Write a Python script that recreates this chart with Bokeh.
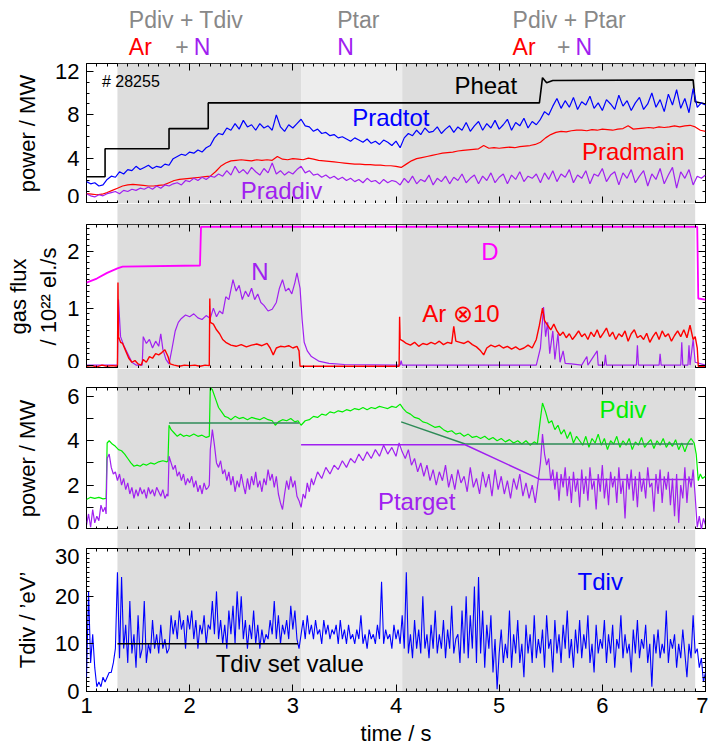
import numpy as np
from bokeh.plotting import figure
from bokeh.layouts import column
from bokeh.models import (Range1d, BoxAnnotation, LinearAxis, SingleIntervalTicker,
                          ColumnDataSource, CustomJSTickFormatter)
from bokeh.core.properties import value
from bokeh.embed import file_html
from bokeh.resources import INLINE

FONT = "Liberation Sans"

# ---------------- data ----------------
phase_edges = [1.30, 3.08, 4.06, 6.90]

# panel 1 : power / MW
t_heat = [1.00, 1.18, 1.18, 1.80, 1.80, 2.18, 2.18, 5.39, 5.42, 5.46, 5.52, 6.88, 6.90, 7.00]
p_heat = [2.35, 2.35, 4.9, 4.9, 6.75, 6.75, 9.1, 9.1, 11.4, 10.95, 11.15, 11.2, 9.2, 9.0]

step_rad = 0.04
p_radtot = [1.9, 1.7, 1.8, 1.5, 1.6, 2.1,
            2.4, 2.3, 2.8, 2.6, 3.0, 2.9, 3.3, 3.0, 3.2, 3.4, 3.1, 3.3, 3.2, 3.5, 3.4,
            4.0, 4.2, 4.4, 4.3, 4.6, 4.5, 4.8, 4.6, 5.0, 5.2,
            5.9, 6.3, 6.2, 6.8, 6.6, 7.2, 6.7, 7.5, 6.9, 7.1, 6.6, 7.2, 6.8, 7.0, 6.6, 8.0, 6.9, 6.5, 7.1, 6.8,
            7.2, 7.6, 7.0, 6.9, 6.5, 6.7, 6.3, 6.4, 6.1, 6.2, 5.9, 6.0, 5.8, 5.6, 5.9, 5.7, 5.5, 5.8, 5.4, 5.6,
            5.3, 5.7, 5.5, 5.2, 5.6,
            5.0, 5.9, 6.3, 6.1, 6.6, 6.2, 6.8, 6.4, 6.5, 6.9, 6.3, 6.7, 7.0, 6.4, 6.9, 6.6, 7.3, 6.5, 7.0, 7.4,
            6.6, 7.2, 6.8, 7.5, 6.7, 7.1, 7.6, 6.6, 7.3, 7.0, 7.7, 6.8, 7.4, 7.1,
            7.6, 8.3, 8.0, 8.8, 9.5, 8.6, 9.3, 8.7, 9.6, 8.5, 9.2, 8.9, 9.7, 8.6, 9.1, 8.4, 9.4, 9.0, 8.5, 9.8,
            8.8, 9.3, 8.4, 9.1, 9.6, 8.5, 9.0, 10.0, 8.7, 9.4, 8.3, 9.9, 8.9, 10.3, 8.6, 9.5, 8.2, 10.4,
            8.7, 9.1, 8.9]
p_raddiv = [0.8, 0.6, 0.5, 0.7, 0.6, 0.8,
            0.9, 1.0, 0.8, 1.1, 1.0, 1.2, 1.1, 1.3, 1.2, 1.4, 1.2, 1.5, 1.3, 1.6, 1.5,
            1.7, 1.8, 1.6, 2.0, 1.9, 2.2, 2.0, 2.3, 2.1, 2.4,
            2.3, 2.6, 2.4, 2.9, 2.5, 3.3, 2.7, 3.0, 2.6, 3.2, 2.8, 2.5, 3.1, 2.7, 3.6, 2.6, 2.9, 2.5, 2.8, 2.6,
            3.0, 3.3, 2.7, 2.9, 2.5, 2.6, 2.3, 2.5, 2.2, 2.4, 2.1, 2.3, 2.0, 2.2, 1.9, 2.1, 1.8, 2.2, 1.9, 2.0,
            1.7, 2.1, 1.8, 2.0, 1.9,
            1.6, 2.2, 1.8, 2.4, 1.7, 2.1, 1.9, 2.5, 1.6, 2.2, 1.9, 2.4, 1.7, 2.3, 2.0, 2.6, 1.8, 2.2, 2.5, 1.7,
            2.4, 2.0, 2.7, 1.8, 2.3, 2.6, 1.7, 2.5, 2.1, 2.8, 1.9, 2.4, 2.2, 2.6,
            1.8, 2.7, 2.1, 2.9, 1.9, 2.6, 2.3, 3.0, 1.8, 2.5, 2.2, 2.9, 1.7, 2.6, 2.4, 3.1, 1.9, 2.5, 2.8, 1.6,
            2.7, 2.2, 3.0, 1.8, 2.4, 2.9, 1.5, 2.6, 2.1, 3.1, 1.7, 2.5, 3.2, 1.3, 2.8, 2.2, 3.0, 1.6,
            2.4, 2.2, 2.5]
step_main = 0.05
p_radmain = [0.8, 0.75, 0.7, 0.75, 0.9, 1.1, 1.3, 1.5, 1.6, 1.65, 1.6, 1.55, 1.5, 1.5, 1.55, 1.6,
             1.8, 2.0, 2.1, 2.15, 2.2, 2.25, 2.3, 2.35, 2.4, 2.8, 3.3, 3.6, 3.8, 3.85, 3.9, 3.85,
             3.8, 3.9, 3.85, 3.9, 3.85, 4.2, 3.95, 3.9, 4.0, 3.95, 3.9, 4.05, 3.95, 3.85, 3.8, 3.75,
             3.7, 3.65, 3.6, 3.55, 3.5, 3.5, 3.45, 3.45, 3.4, 3.4, 3.35, 3.35, 3.3, 3.2, 3.5, 3.8,
             4.0, 4.1, 4.2, 4.3, 4.4, 4.5, 4.55, 4.6, 4.7, 4.75, 4.8, 4.85, 4.9, 5.2, 4.95, 5.0,
             4.95, 5.0, 5.05, 5.0, 5.1, 5.15, 5.2, 5.3, 5.5, 5.9, 6.2, 6.4, 6.5, 6.45, 6.55, 6.6,
             6.6, 6.55, 6.65, 6.6, 6.7, 6.65, 6.6, 6.7, 6.75, 7.0, 6.7, 6.75, 6.8, 6.85, 6.8, 6.9,
             6.85, 6.9, 7.0, 6.9, 7.0, 7.05, 6.9, 6.6, 6.5]

# panel 2 : gas flux / 1e22 el/s
t_d = [1.00, 1.10, 1.20, 1.30, 1.35, 2.10, 2.11, 6.92, 6.93, 7.00]
flux_d = [1.45, 1.52, 1.62, 1.70, 1.73, 1.75, 2.43, 2.43, 1.17, 1.15]

t_n = [1.00, 1.30, 1.31, 1.33, 1.36, 1.40, 1.44, 1.48, 1.54, 1.55, 1.58, 1.61, 1.64, 1.67, 1.70, 1.72,
       1.74, 1.77, 1.80, 1.83, 1.86, 1.89, 1.92, 1.96, 2.00, 2.04, 2.08, 2.12, 2.16, 2.20, 2.23, 2.26,
       2.29, 2.32, 2.35, 2.38, 2.42, 2.45, 2.48, 2.51, 2.54, 2.57, 2.60, 2.63, 2.66, 2.69, 2.72, 2.76,
       2.80, 2.84, 2.87, 2.90, 2.93, 2.96, 2.99, 3.02, 3.04, 3.07, 3.09, 3.11, 3.14, 3.18, 3.25, 3.35,
       3.50, 4.04, 4.05, 4.06, 5.36, 5.40, 5.43, 5.45, 5.47, 5.49, 5.52, 5.54, 5.57, 5.59, 5.62, 5.64,
       5.70, 5.80, 5.85, 5.86, 5.95, 5.96, 6.02, 6.03, 6.04, 6.33, 6.34, 6.35, 6.55, 6.56, 6.57, 6.76,
       6.77, 6.78, 6.83, 6.84, 6.85, 6.88, 6.90, 7.00]
flux_n = [0.0, 0.0, 1.15, 0.5, 0.35, 0.2, 0.05, 0.0, 0.0, 0.5, 0.38, 0.45, 0.3, 0.42, 0.33, 0.55,
          0.28, 0.1, 0.02, 0.3, 0.6, 0.75, 0.82, 0.88, 0.85, 0.9, 0.83, 0.8, 0.87, 0.82, 1.0, 0.85,
          0.95, 0.9, 1.2, 1.15, 1.5, 1.3, 1.4, 1.15, 1.3, 1.2, 1.35, 1.15, 1.25, 1.1, 1.05, 0.95,
          0.98, 1.1, 1.35, 1.5, 1.3, 1.35, 1.25, 1.45, 1.62, 1.35, 0.8, 0.4, 0.25, 0.15, 0.07, 0.03,
          0.01, 0.0, 0.08, 0.0, 0.0, 0.3, 1.02, 0.5, 0.75, 0.2, 0.6, 0.1, 0.55, 0.05, 0.25, 0.03,
          0.02, 0.0, 0.15, 0.0, 0.25, 0.0, 0.0, 0.18, 0.0, 0.0, 0.35, 0.0, 0.0, 0.2, 0.0, 0.0,
          0.4, 0.0, 0.0, 0.35, 0.0, 0.45, 0.05, 0.0]

t_ar = [1.00, 1.05, 1.10, 1.15, 1.20, 1.25, 1.30, 1.305, 1.31, 1.33, 1.35, 1.38, 1.41, 1.44, 1.47, 1.50,
        1.53, 1.55, 1.58, 1.61, 1.64, 1.67, 1.70, 1.73, 1.76, 1.79, 1.81, 1.85, 1.90, 1.95, 2.00, 2.05,
        2.10, 2.15, 2.19, 2.195, 2.20, 2.23, 2.26, 2.29, 2.32, 2.35, 2.40, 2.45, 2.50, 2.55, 2.60, 2.65,
        2.70, 2.75, 2.78, 2.81, 2.84, 2.88, 2.92, 2.96, 3.00, 3.04, 3.06, 3.07, 3.20, 3.50, 3.80, 4.03,
        4.035, 4.04, 4.07, 4.10, 4.14, 4.18, 4.22, 4.26, 4.30, 4.34, 4.38, 4.42, 4.46, 4.50, 4.54, 4.56,
        4.58, 4.62, 4.66, 4.70, 4.74, 4.78, 4.82, 4.85, 4.88, 4.92, 4.96, 5.00, 5.04, 5.08, 5.12, 5.16,
        5.20, 5.24, 5.28, 5.32, 5.36, 5.39, 5.42, 5.44, 5.47, 5.50, 5.53, 5.56, 5.59, 5.62, 5.65, 5.68,
        5.71, 5.74, 5.77, 5.80, 5.83, 5.86, 5.89, 5.92, 5.95, 5.98, 6.01, 6.04, 6.07, 6.10, 6.13, 6.16,
        6.19, 6.22, 6.25, 6.28, 6.31, 6.34, 6.37, 6.40, 6.43, 6.46, 6.49, 6.52, 6.55, 6.58, 6.61, 6.64,
        6.67, 6.70, 6.73, 6.76, 6.79, 6.82, 6.85, 6.88, 6.90, 6.92, 6.93, 7.00]
flux_ar10 = [-0.02, -0.01, -0.03, 0.0, -0.02, -0.01, -0.02, 1.45, 0.5, 0.4, 0.38, 0.25, 0.12, 0.05, 0.08, 0.02,
             0.0, 0.1, 0.05, 0.15, 0.12, 0.2, 0.18, 0.22, 0.27, 0.15, 0.02, 0.0, -0.02, 0.0, -0.01, 0.0,
             -0.02, 0.0, -0.01, 1.17, 0.75, 0.72, 0.62, 0.55, 0.45, 0.4, 0.35, 0.33, 0.36, 0.32, 0.35, 0.37,
             0.34, 0.38, 0.3, 0.18, 0.3, 0.33, 0.32, 0.34, 0.3, 0.33, 0.25, -0.02, -0.02, -0.02, -0.02, -0.02,
             0.85, 0.45, 0.42, 0.38, 0.35, 0.4, 0.33, 0.38, 0.36, 0.4, 0.37, 0.42, 0.36, 0.4, 0.38, 0.68,
             0.42, 0.4, 0.38, 0.42, 0.36, 0.32, 0.25, 0.18, 0.3, 0.35, 0.32, 0.35, 0.3, 0.33, 0.28, 0.32,
             0.27, 0.3, 0.35, 0.3, 0.45, 0.7, 1.0, 0.78, 0.7, 0.62, 0.72, 0.6, 0.52, 0.58, 0.48, 0.55,
             0.45, 0.52, 0.6, 0.5, 0.55, 0.45, 0.58, 0.5, 0.62, 0.48, 0.56, 0.65, 0.5, 0.58, 0.45, 0.55,
             0.5, 0.6, 0.42, 0.55, 0.62, 0.48, 0.52, 0.45, 0.56, 0.4, 0.5, 0.58, 0.45, 0.6, 0.5, 0.55,
             0.42, 0.52, 0.6, 0.5, 0.62, 0.48, 0.7, 0.45, 0.5, 0.3, -0.02, -0.02]

# panel 3 : power / MW (divertor)
t_pdiv = [1.00, 1.04, 1.08, 1.12, 1.16, 1.19, 1.20, 1.22, 1.25, 1.28, 1.31, 1.34, 1.37, 1.40, 1.43, 1.46,
          1.49, 1.52, 1.55, 1.58, 1.62, 1.66, 1.70, 1.74, 1.78, 1.79, 1.80, 1.82, 1.85, 1.88, 1.91, 1.94,
          1.97, 2.00, 2.04, 2.08, 2.12, 2.16, 2.19, 2.20, 2.22, 2.25, 2.28, 2.31, 2.34, 2.37, 2.40, 2.44,
          2.48, 2.52, 2.56, 2.60, 2.64, 2.68, 2.72, 2.76, 2.80, 2.83, 2.86, 2.90, 2.94, 2.98, 3.02, 3.05,
          3.08, 3.12, 3.16, 3.20, 3.24, 3.28, 3.32, 3.36, 3.40, 3.44, 3.48, 3.52, 3.56, 3.60, 3.64, 3.68,
          3.72, 3.76, 3.80, 3.84, 3.88, 3.92, 3.96, 4.00, 4.04, 4.07, 4.10, 4.14, 4.18, 4.22, 4.26, 4.30,
          4.34, 4.38, 4.42, 4.46, 4.50, 4.54, 4.58, 4.62, 4.66, 4.70, 4.74, 4.78, 4.82, 4.86, 4.90, 4.94,
          4.98, 5.02, 5.06, 5.10, 5.14, 5.18, 5.22, 5.26, 5.30, 5.34, 5.37, 5.40, 5.42, 5.45, 5.48, 5.51,
          5.54, 5.57, 5.60, 5.63, 5.66, 5.69, 5.72, 5.75, 5.78, 5.81, 5.84, 5.87, 5.90, 5.93, 5.96, 5.99,
          6.02, 6.05, 6.08, 6.11, 6.14, 6.17, 6.20, 6.23, 6.26, 6.29, 6.32, 6.35, 6.38, 6.41, 6.44, 6.47,
          6.50, 6.53, 6.56, 6.59, 6.62, 6.65, 6.68, 6.71, 6.74, 6.77, 6.80, 6.83, 6.86, 6.89, 6.91, 6.93,
          6.95, 6.97, 7.00]
p_div = [1.35, 1.45, 1.4, 1.45, 1.38, 1.4, 3.9, 4.0, 3.85, 3.75, 3.6, 3.55, 3.4, 3.2, 3.0, 2.85,
         2.9, 2.85, 2.95, 2.9, 3.0, 2.95, 3.05, 3.1, 3.05, 3.1, 4.7, 4.5, 4.35, 4.2, 4.3, 4.2,
         4.25, 4.2, 4.3, 4.2, 4.25, 4.15, 4.2, 6.4, 6.3, 5.9, 5.5, 5.3, 5.1, 5.05, 4.95, 5.1,
         5.0, 5.05, 4.95, 5.05, 5.0, 4.95, 5.05, 4.95, 4.9, 4.7, 4.85, 4.95, 4.9, 5.0, 4.85, 4.9,
         4.7, 4.9, 4.95, 5.1, 5.05, 5.2, 5.15, 5.3, 5.25, 5.35, 5.3, 5.4, 5.35, 5.45, 5.4, 5.5,
         5.4, 5.5, 5.45, 5.55, 5.5, 5.45, 5.55, 5.5, 5.65, 5.45, 5.3, 5.2, 5.05, 5.0, 4.85, 4.8,
         4.7, 4.6, 4.65, 4.5, 4.4, 4.45, 4.3, 4.35, 4.2, 4.3, 4.15, 4.2, 4.1, 4.2, 4.05, 4.15,
         4.0, 4.1, 3.95, 4.05, 3.9, 4.0, 3.85, 4.0, 3.8, 3.95, 3.85, 5.0, 5.7, 5.3, 4.8, 4.9,
         4.5, 4.7, 4.3, 4.5, 4.1, 4.4, 3.9, 4.2, 4.0, 3.8, 4.2, 3.7, 4.1, 3.9, 4.3, 3.8,
         4.1, 3.6, 4.0, 3.85, 4.2, 3.7, 4.0, 3.8, 4.1, 3.6, 3.95, 3.8, 4.15, 3.7, 3.9, 4.05,
         3.65, 4.0, 3.8, 4.1, 3.7, 3.95, 3.75, 4.05, 3.6, 3.9, 3.5, 3.9, 4.1, 3.9, 3.4, 2.2,
         2.5, 2.3, 2.4]

t_ptar = [1.00, 1.02, 1.04, 1.06, 1.08, 1.10, 1.12, 1.14, 1.16, 1.18, 1.19, 1.20, 1.22, 1.24, 1.26, 1.28,
          1.30, 1.32, 1.34, 1.36, 1.38, 1.40, 1.42, 1.44, 1.46, 1.48, 1.50, 1.52, 1.54, 1.56, 1.58, 1.60,
          1.62, 1.64, 1.66, 1.68, 1.70, 1.72, 1.74, 1.76, 1.78, 1.79, 1.80, 1.82, 1.84, 1.86, 1.88, 1.90,
          1.92, 1.94, 1.96, 1.98, 2.00, 2.02, 2.04, 2.06, 2.08, 2.10, 2.12, 2.14, 2.16, 2.18, 2.19, 2.20,
          2.22, 2.24, 2.26, 2.28, 2.30, 2.32, 2.34, 2.36, 2.38, 2.40, 2.42, 2.44, 2.46, 2.48, 2.50, 2.52,
          2.54, 2.56, 2.58, 2.60, 2.62, 2.64, 2.66, 2.68, 2.70, 2.72, 2.74, 2.76, 2.78, 2.80, 2.82, 2.84,
          2.86, 2.88, 2.90, 2.92, 2.94, 2.96, 2.98, 3.00, 3.02, 3.04, 3.06, 3.08, 3.10, 3.12, 3.14, 3.16,
          3.18, 3.20, 3.24, 3.28, 3.32, 3.36, 3.40, 3.44, 3.48, 3.52, 3.56, 3.60, 3.64, 3.68, 3.72, 3.76,
          3.80, 3.84, 3.88, 3.92, 3.96, 4.00, 4.03, 4.06, 4.09, 4.12, 4.15, 4.18, 4.21, 4.24, 4.27, 4.30,
          4.33, 4.36, 4.39, 4.42, 4.45, 4.48, 4.51, 4.54, 4.57, 4.60, 4.63, 4.66, 4.69, 4.72, 4.75, 4.78,
          4.81, 4.84, 4.87, 4.90, 4.93, 4.96, 4.99, 5.02, 5.05, 5.08, 5.11, 5.14, 5.17, 5.20, 5.23, 5.26,
          5.29, 5.32, 5.35, 5.37, 5.40, 5.42, 5.44, 5.46, 5.48, 5.50, 5.52, 5.54, 5.56, 5.58, 5.60, 5.62,
          5.64, 5.66, 5.68, 5.70, 5.72, 5.74, 5.76, 5.78, 5.80, 5.82, 5.84, 5.86, 5.88, 5.90, 5.92, 5.94,
          5.96, 5.98, 6.00, 6.02, 6.04, 6.06, 6.08, 6.10, 6.12, 6.14, 6.16, 6.18, 6.20, 6.22, 6.24, 6.26,
          6.28, 6.30, 6.32, 6.34, 6.36, 6.38, 6.40, 6.42, 6.44, 6.46, 6.48, 6.50, 6.52, 6.54, 6.56, 6.58,
          6.60, 6.62, 6.64, 6.66, 6.68, 6.70, 6.72, 6.74, 6.76, 6.78, 6.80, 6.82, 6.84, 6.86, 6.88, 6.90,
          6.91, 6.92, 6.94, 6.96, 6.98, 7.00]
p_target = [0.2, 0.7, 0.1, 0.9, 0.3, 0.6, 0.4, 1.1, 0.8, 1.0, 0.7, 3.2, 3.4, 2.8, 2.5, 2.6,
            2.2, 2.5, 2.0, 2.3, 1.8, 2.1, 1.6, 1.9, 1.4, 1.8, 1.5, 1.9, 1.6, 1.8, 1.4, 1.9,
            1.6, 1.8, 1.5, 1.9, 1.7, 1.5, 1.8, 1.4, 1.6, 1.5, 3.3, 3.0, 2.7, 2.9, 2.4, 2.6,
            2.2, 2.5, 2.0, 2.3, 2.1, 2.4, 1.9, 2.2, 1.7, 2.0, 1.6, 2.1, 1.8, 1.9, 2.0, 3.6,
            4.5, 3.8, 3.0, 2.8, 3.1, 2.5, 2.7, 2.2, 2.6, 2.0, 2.4, 1.7, 2.2, 1.9, 2.5, 2.0,
            1.6, 2.3, 1.8, 2.4, 2.0, 2.6, 1.9, 2.2, 1.7, 2.3, 2.0, 2.7, 2.2, 2.5, 1.9, 2.4,
            1.6, 1.2, 0.9, 1.6, 2.2, 1.8, 2.4, 1.9, 2.2, 1.5, 1.3, 1.0, 1.6, 1.4, 2.1, 1.7,
            2.3, 2.0, 2.6, 2.3, 2.8, 2.5, 2.9, 2.7, 3.1, 2.8, 3.2, 3.0, 3.4, 3.1, 3.5, 3.2,
            3.6, 3.3, 3.8, 3.4, 3.7, 3.3, 3.9, 3.5, 3.2, 3.6, 2.9, 3.2, 2.6, 3.0, 2.4, 2.9,
            2.2, 2.7, 2.0, 2.6, 2.2, 2.9, 1.9, 2.5, 1.8, 2.7, 2.1, 2.4, 1.7, 2.8, 1.9, 2.3,
            1.6, 2.6, 1.9, 2.5, 1.5, 2.7, 1.8, 2.4, 1.6, 2.2, 1.4, 2.3, 1.8, 2.5, 1.5, 2.1,
            1.4, 2.0, 1.2, 1.9, 3.0, 4.3, 3.4, 2.9, 3.2, 2.2, 2.7, 1.8, 2.6, 1.3, 2.5, 1.9,
            2.8, 1.5, 2.4, 1.2, 2.6, 1.7, 2.3, 1.0, 2.7, 1.6, 2.4, 1.3, 2.8, 1.8, 2.2, 0.9,
            2.5, 1.7, 2.9, 1.4, 2.3, 1.1, 2.6, 1.9, 2.4, 1.2, 2.8, 1.6, 2.2, 0.5, 2.5, 1.8,
            2.7, 1.3, 2.4, 1.0, 2.6, 1.7, 2.3, 1.4, 2.8, 1.9, 2.1, 0.8, 2.5, 1.6, 2.7, 1.2,
            2.4, 1.8, 2.6, 1.1, 2.3, 0.6, 2.5, 0.3, 2.0, 1.4, 2.8, 1.2, 2.4, 1.9, 2.7, 1.5,
            0.8, 0.1, 0.6, 0.0, 0.5, 0.2]

t_pdiv_set_a = [1.80, 3.06]
v_pdiv_set_a = [4.80, 4.80]
t_pdiv_set_b = [4.05, 4.67, 6.88]
v_pdiv_set_b = [4.85, 3.85, 3.85]
t_ptar_set = [3.08, 4.67, 5.40, 6.88]
v_ptar_set = [3.82, 3.82, 2.25, 2.25]

# panel 4 : Tdiv / eV
step_tdiv = 0.02
t_div_ev = [3, 21, 6, 12, 5, 1, 2, 1, 3, 2,
            3, 4, 4, 6, 9, 25, 7, 24, 9, 14,
            6, 19, 8, 12, 5, 16, 7, 9, 19, 6,
            10, 8, 15, 9, 12, 8, 14, 9, 11, 8,
            9, 16, 12, 15, 11, 17, 13, 15, 9, 16,
            13, 17, 11, 15, 9, 14, 12, 16, 10, 14,
            13, 19, 12, 21, 11, 15, 10, 14, 9, 17,
            12, 18, 10, 21, 13, 20, 11, 15, 9, 14,
            11, 17, 10, 14, 9, 13, 10, 12, 11, 15,
            12, 19, 11, 16, 10, 14, 12, 15, 11, 18,
            13, 17, 11, 9, 12, 15, 11, 16, 12, 14,
            11, 15, 12, 13, 10, 15, 12, 14, 11, 13,
            12, 14, 10, 15, 11, 13, 10, 14, 11, 12,
            10, 13, 11, 16, 10, 12, 9, 13, 11, 12,
            10, 14, 11, 23, 10, 13, 11, 12, 9, 14,
            11, 13, 10, 16, 9, 25, 8, 12, 7, 15,
            9, 13, 8, 20, 9, 12, 7, 14, 9, 17,
            8, 12, 9, 15, 7, 13, 9, 18, 8, 11,
            12, 6, 17, 8, 20, 7, 16, 9, 22, 6,
            24, 8, 17, 5, 14, 9, 16, 4, 11, 0.5,
            8, 13, 6, 10, 7, 17, 5, 12, 8, 15,
            6, 10, 3, 14, 8, 12, 6, 16, 7, 11,
            8, 13, 5, 16, 9, 11, 4, 15, 8, 12,
            6, 14, 9, 17, 7, 11, 5, 13, 8, 15,
            7, 12, 9, 16, 6, 10, 4, 14, 8, 11,
            9, 15, 6, 12, 8, 14, 5, 11, 9, 16,
            7, 12, 8, 10, 4, 13, 8, 15, 7, 11,
            9, 14, 6, 10, 1, 12, 8, 13, 7, 10,
            8, 17, 6, 11, 9, 12, 5, 10, 7, 13,
            8, 3, 10, 7, 16, 8, 9, 5, 7, 2,
            4]
t_tdiv_set = [1.30, 3.05]
v_tdiv_set = [10, 10]

x_ticks_interval = 1

# ---------------- styling ----------------
LB, FW, RB = 86, 619, 3
DARK, LIGHT = "#dddddd", "#ededed"
PURPLE = "#a020f0"
GRAY = "#888888"
xr = Range1d(1, 7)


def tb(start, step, vals):
    return [start + step * i for i in range(len(vals))]


def add_shading(p):
    cols = [DARK, LIGHT, DARK]
    for a, b, c in zip(phase_edges[:-1], phase_edges[1:], cols):
        p.add_layout(BoxAnnotation(left=a, right=b, fill_color=c, fill_alpha=1.0,
                                   line_alpha=0, level="underlay"))


def base_fig(yr, fh, bottom=0):
    p = figure(x_range=xr, y_range=yr, frame_width=FW, frame_height=fh,
               min_border_left=LB, min_border_right=RB, min_border_top=0, min_border_bottom=bottom,
               x_axis_location=None, y_axis_location=None, title=None,
               toolbar_location=None, output_backend="svg")
    p.grid.visible = False
    p.background_fill_color = "white"
    p.border_fill_color = "white"
    return p


def style_ax(ax, labels, tick_in=7, minor_in=3):
    ax.axis_line_color = None
    ax.major_tick_in = tick_in
    ax.major_tick_out = 0
    ax.minor_tick_in = minor_in
    ax.minor_tick_out = 0
    ax.major_tick_line_color = "black"
    ax.minor_tick_line_color = "black"
    if labels:
        ax.major_label_text_font = FONT
        ax.major_label_text_font_size = "22px"
        ax.major_label_text_color = "black"
        ax.axis_label_text_font = FONT
        ax.axis_label_text_font_size = "22px"
        ax.axis_label_text_font_style = "normal"
        ax.axis_label_text_color = "black"
    else:
        ax.formatter = CustomJSTickFormatter(code="return ''")
        ax.major_label_text_font_size = "1px"
        ax.major_label_standoff = 0


def panel(y0, y1, fh, interval, nminor, ylabel, lab_standoff, minor_in=3, xlabels=False, bottom=0):
    p = base_fig(Range1d(y0, y1), fh, bottom)
    p.outline_line_color = "black"
    p.outline_line_width = 1
    add_shading(p)
    left = LinearAxis(ticker=SingleIntervalTicker(interval=interval, num_minor_ticks=nminor), axis_label=ylabel)
    style_ax(left, True, minor_in=minor_in)
    left.major_label_standoff = 7
    left.axis_label_standoff = lab_standoff
    p.add_layout(left, "left")
    right = LinearAxis(ticker=SingleIntervalTicker(interval=interval, num_minor_ticks=nminor))
    style_ax(right, False, minor_in=minor_in)
    p.add_layout(right, "right")
    top = LinearAxis(ticker=SingleIntervalTicker(interval=x_ticks_interval, num_minor_ticks=10))
    style_ax(top, False)
    p.add_layout(top, "above")
    bot = LinearAxis(ticker=SingleIntervalTicker(interval=x_ticks_interval, num_minor_ticks=10),
                     axis_label="time / s" if xlabels else None)
    style_ax(bot, xlabels)
    if xlabels:
        bot.major_label_standoff = 6
        bot.axis_label_standoff = 5
    p.add_layout(bot, "below")
    return p


def gap(fh):
    p = base_fig(Range1d(0, 1), fh)
    p.outline_line_color = None
    add_shading(p)
    return p


def labels(p, xs, ys, texts, colors, size="24px", align="center"):
    src = ColumnDataSource(dict(x=xs, y=ys, text=texts, color=colors))
    p.text(x="x", y="y", text="text", text_color="color", source=src,
           text_font=value(FONT), text_font_size=value(size),
           text_align=align, text_baseline="middle")


# header (page is drawn from the very top-left corner)
H = 63
head = base_fig(Range1d(H, 0), H)
head.outline_line_color = None
head_src = ColumnDataSource(dict(
    x=[1.41, 3.43, 5.13, 1.41, 1.86, 2.04, 3.43, 5.13, 5.56, 5.74],
    y=[19, 19, 19, 46, 46, 46, 46, 46, 46, 46],
    text=["Pdiv +  Tdiv", "Ptar", "Pdiv +  Ptar", "Ar", "+", "N", "N", "Ar", "+", "N"],
    color=[GRAY, GRAY, GRAY, "red", GRAY, PURPLE, PURPLE, "red", GRAY, PURPLE]))
head.text(x="x", y="y", text="text", text_color="color", source=head_src,
          text_font=value(FONT), text_font_size=value("23px"),
          text_align="left", text_baseline="middle")

# panel 1
p1 = panel(-0.1, 12.7, 140, 4, 4, "power / MW", 12)
p1.line(t_heat, p_heat, color="black", line_width=1.6)
p1.line(tb(1.0, step_main, p_radmain), p_radmain, color="red", line_width=1.2)
p1.line(tb(1.0, step_rad, p_raddiv), p_raddiv, color=PURPLE, line_width=1.2)
p1.line(tb(1.0, step_rad, p_radtot), p_radtot, color="blue", line_width=1.2)
labels(p1, [4.87, 3.95, 6.30, 2.89], [10.7, 7.75, 4.65, 1.1],
       ["Pheat", "Pradtot", "Pradmain", "Praddiv"], ["black", "blue", "red", PURPLE])
labels(p1, [1.15], [11.1], ["# 28255"], ["black"], size="16px", align="left")

# panel 2
p2 = panel(-0.06, 2.47, 144, 1, 10, "gas flux\n/ 10²² el./s", 3)
p2.line(t_d, flux_d, color="magenta", line_width=1.8)
p2.line(t_n, flux_n, color=PURPLE, line_width=1.2)
p2.line(t_ar, flux_ar10, color="red", line_width=1.4)
labels(p2, [4.91, 2.68, 4.63], [1.99, 1.64, 0.9], ["D", "N", "Ar ⊗10"], ["magenta", PURPLE, "red"])

# panel 3
p3 = panel(0.0, 6.4, 142, 2, 2, "power / MW", 24, minor_in=7)
p3.line(t_pdiv, p_div, color="#00ee00", line_width=1.2)
p3.line(t_ptar, p_target, color=PURPLE, line_width=1.2)
p3.line(t_pdiv_set_a, v_pdiv_set_a, color="#2e8b57", line_width=1.5)
p3.line(t_pdiv_set_b, v_pdiv_set_b, color="#2e8b57", line_width=1.5)
p3.line(t_ptar_set, v_ptar_set, color=PURPLE, line_width=1.5)
labels(p3, [6.2, 4.2], [5.43, 1.25], ["Pdiv", "Ptarget"], ["#00ee00", PURPLE])

# panel 4
p4 = panel(0, 30, 143, 10, 10, "Tdiv / ’eV’", 12, xlabels=True)
p4.line(tb(1.0, step_tdiv, t_div_ev), t_div_ev, color="blue", line_width=1.1)
p4.line(t_tdiv_set, v_tdiv_set, color="black", line_width=1.5)
labels(p4, [5.98, 2.97], [23, 5.8], ["Tdiv", "Tdiv set value"], ["blue", "black"])

layout = column(head, p1, gap(21), p2, gap(19), p3, gap(19), p4, spacing=0)

open("out.html", "w").write(file_html(layout, INLINE))
